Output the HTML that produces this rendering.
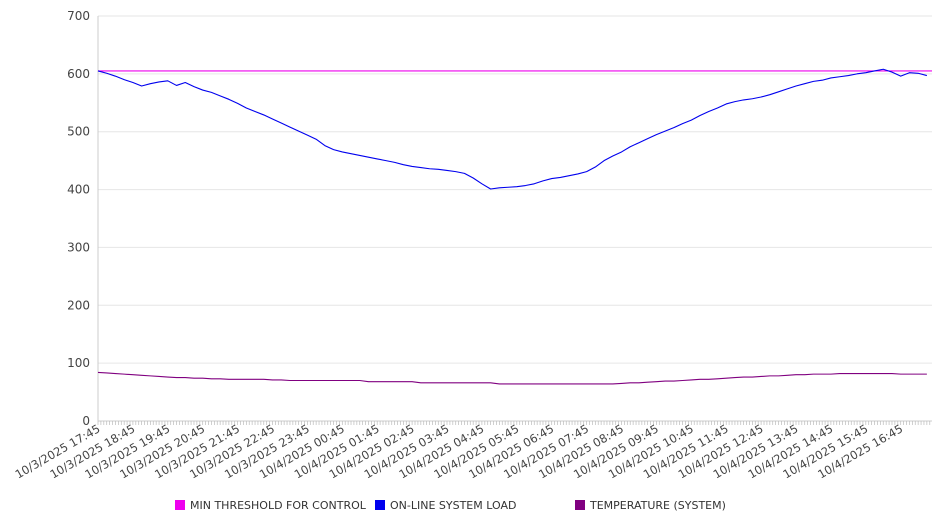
<!DOCTYPE html>
<html><head><meta charset="utf-8"><style>
body{margin:0;background:#fff;font-family:"DejaVu Sans","Liberation Sans",sans-serif;}
svg text{font-family:"DejaVu Sans","Liberation Sans",sans-serif;}
</style></head><body>
<svg id="chart" width="946" height="526" xmlns="http://www.w3.org/2000/svg">
<g id="grid"></g>
<g id="axes"></g>
<g id="series"></g>
<g id="legend"></g>
</svg>
<script>
const xLabels=["10/3/2025 17:45","10/3/2025 18:45","10/3/2025 19:45","10/3/2025 20:45","10/3/2025 21:45","10/3/2025 22:45","10/3/2025 23:45","10/4/2025 00:45","10/4/2025 01:45","10/4/2025 02:45","10/4/2025 03:45","10/4/2025 04:45","10/4/2025 05:45","10/4/2025 06:45","10/4/2025 07:45","10/4/2025 08:45","10/4/2025 09:45","10/4/2025 10:45","10/4/2025 11:45","10/4/2025 12:45","10/4/2025 13:45","10/4/2025 14:45","10/4/2025 15:45","10/4/2025 16:45"];
const yTicks=[0,100,200,300,400,500,600,700];
const systemLoad=[605,601,596,590,585,579,583,586,588,580,585,578,572,568,562,556,549,541,535,529,522,515,508,501,494,487,476,469,465,462,459,456,453,450,447,443,440,438,436,435,433,431,428,420,410,401,403,404,405,407,410,415,419,421,424,427,431,439,450,458,465,474,481,488,495,501,507,514,520,528,535,541,548,552,555,557,560,564,569,574,579,583,587,589,593,595,597,600,602,605,608,603,596,602,601,597];
const temperature=[84,83,82,81,80,79,78,77,76,75,75,74,74,73,73,72,72,72,72,72,71,71,70,70,70,70,70,70,70,70,70,68,68,68,68,68,68,66,66,66,66,66,66,66,66,66,64,64,64,64,64,64,64,64,64,64,64,64,64,64,65,66,66,67,68,69,69,70,71,72,72,73,74,75,76,76,77,78,78,79,80,80,81,81,81,82,82,82,82,82,82,82,81,81,81,81];
const threshold=[605,605];
const seriesNames=["MIN THRESHOLD FOR CONTROL","ON-LINE SYSTEM LOAD","TEMPERATURE (SYSTEM)"];
const seriesColors=["#ee00ee","#0000ee","#800080"];

const NS="http://www.w3.org/2000/svg";
const X0=98,X1=932,Y0=421,Y1=16,HOUR=34.9;
const xs=q=>X0+q*HOUR/4; // q = quarter-hour index
const ys=v=>Y0-(v/700)*(Y0-Y1);
function mk(tag,attrs,parent){const e=document.createElementNS(NS,tag);for(const k in attrs)e.setAttribute(k,attrs[k]);parent.appendChild(e);return e;}
const grid=document.getElementById('grid'),axes=document.getElementById('axes'),ser=document.getElementById('series'),leg=document.getElementById('legend');

yTicks.forEach(v=>{
  const l=mk('line',{x1:X0,x2:X1,y1:ys(v),y2:ys(v),stroke:v===0?'#ccc':'#e6e6e6','stroke-width':1},grid);
  
  
  const t=mk('text',{x:90,y:ys(v)+4,'text-anchor':'end','font-size':12,fill:'#444'},axes);
  t.textContent=v;
  
  
});
const ax=mk('line',{x1:X0,x2:X0,y1:Y1,y2:Y0,stroke:'#ccc'},axes);


for(let m=0;m*HOUR/12<=X1-X0;m++){
  const x=X0+m*HOUR/12;
  const t=mk('line',{x1:x,x2:x,y1:Y0,y2:Y0+4,stroke:'#bbb','stroke-width':0.7},axes);
  
  
}
xLabels.forEach((s,i)=>{
  const x=xs(i*4)+3,y=Y0+10;
  const t=mk('text',{x:x,y:y,'text-anchor':'end','font-size':11.5,fill:'#444',transform:`rotate(-30 ${x} ${y})`},axes);
  t.textContent=s;
  
  
});

function line(vals,xf,color,name){
  const p=mk('polyline',{points:vals.map((v,i)=>xf(i)+','+ys(v)).join(' '),fill:'none',stroke:color,'stroke-width':1.1,'stroke-linejoin':'round'},ser);
  
  
}
line(threshold,i=>i===0?X0:X1,seriesColors[0],'threshold-line');
line(temperature,xs,seriesColors[2],'temperature-line');
line(systemLoad,xs,seriesColors[1],'system-load-line');

const lx=[175,375,575];
seriesNames.forEach((n,i)=>{
  const r=mk('rect',{x:lx[i],y:500,width:10,height:10,fill:seriesColors[i]},leg);
  
  
  const t=mk('text',{x:lx[i]+15,y:509,'font-size':11,fill:'#333'},leg);
  t.textContent=n;
  
  
});
</script>
</body></html>
